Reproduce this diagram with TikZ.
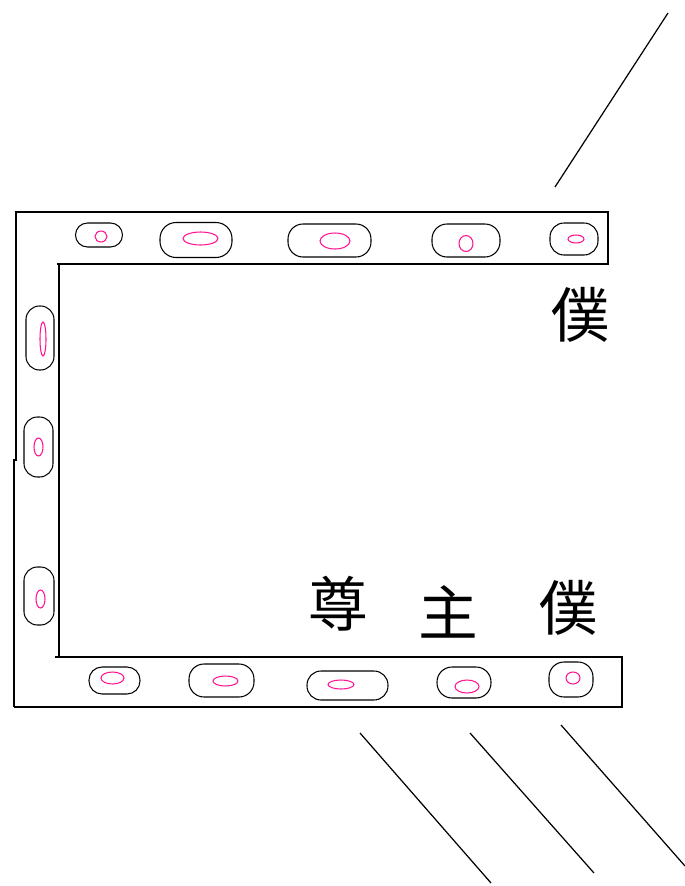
\documentclass[tikz,border=0pt]{standalone}
\usepackage{fontspec}
\newfontfamily\cjk{Noto Sans CJK TC}
\usetikzlibrary{positioning, shapes.geometric}
\definecolor{holepink}{RGB}{255,20,147}
\tikzset{
    %Define style for the walls
    wall/.style={
           draw=black, line width=0.9pt,
           line join=miter},
 %
    slot/.style={
           rectangle,
           rounded corners=#1,
           draw=black, line width=0.6pt,
           inner sep=0pt, outer sep=0pt},
    slot/.default=0.24cm,
 %
    hole/.style={
           ellipse,
           draw=holepink, line width=0.6pt,
           inner sep=0pt, outer sep=0pt},
 %
    sign/.style={
           font=\cjk\fontsize{34}{34}\selectfont,
           inner sep=0pt},
%
    % Define style for the loose lines
    ray/.style={
           draw=black, line width=0.7pt}
}

\begin{document}
\begin{tikzpicture}[x=0.02cm, y=-0.02cm]
  \useasboundingbox (0,0) rectangle (685,886);
  % walls
  \draw[wall] (14,707) -- (14,460) -- (16,460) -- (16,212) -- (608,212) -- (608,264) -- (57,264);
  \draw[wall] (59,264) -- (59,657);
  \draw[wall] (55,657) -- (622,657) -- (622,707) -- (14,707);
  % top row
  \node[slot] (t1) at (99,235) [minimum width=0.94cm, minimum height=0.48cm] {};
  \node[slot=0.32cm] (t2) at (196,240) [minimum width=1.44cm, minimum height=0.70cm] {};
  \node[slot=0.3cm] (t3) at (329.5,240.5) [minimum width=1.66cm, minimum height=0.66cm] {};
  \node[slot=0.3cm] (t4) at (466,240.5) [minimum width=1.36cm, minimum height=0.66cm] {};
  \node[slot=0.28cm] (t5) at (574,239) [minimum width=0.96cm, minimum height=0.64cm] {};
  \node[hole, minimum width=0.24cm, minimum height=0.22cm] (th1) at (101,236.5) {};
  \node[hole, minimum width=0.70cm, minimum height=0.26cm] (th2) at (200.5,238.5) {};
  \node[hole, minimum width=0.60cm, minimum height=0.32cm] (th3) at (335,241) {};
  \node[hole, minimum width=0.28cm, minimum height=0.32cm] (th4) at (466,243.5) {};
  \node[hole, minimum width=0.32cm, minimum height=0.16cm] (th5) at (576,239) {};
  % left column
  \node[slot=0.27cm] (l1) at (40,338) [minimum width=0.56cm, minimum height=1.28cm] {};
  \node[slot=0.27cm] (l2) at (38.5,447) [minimum width=0.58cm, minimum height=1.20cm] {};
  \node[slot=0.27cm] (l3) at (39,596) [minimum width=0.60cm, minimum height=1.16cm] {};
  \node[hole, minimum width=0.12cm, minimum height=0.68cm] (lh1) at (43,339) {};
  \node[hole, minimum width=0.18cm, minimum height=0.36cm] (lh2) at (38.5,447) {};
  \node[hole, minimum width=0.18cm, minimum height=0.36cm] (lh3) at (40.5,599) {};
  % bottom row
  \node[slot=0.26cm] (b1) at (114.5,680.5) [minimum width=1.02cm, minimum height=0.54cm] {};
  \node[slot=0.3cm] (b2) at (221.5,680.5) [minimum width=1.30cm, minimum height=0.66cm] {};
  \node[slot=0.28cm] (b3) at (347.5,685.5) [minimum width=1.62cm, minimum height=0.58cm] {};
  \node[slot=0.3cm] (b4) at (464,682.5) [minimum width=1.08cm, minimum height=0.62cm] {};
  \node[slot=0.3cm] (b5) at (571,679.5) [minimum width=0.88cm, minimum height=0.70cm] {};
  \node[hole, minimum width=0.46cm, minimum height=0.24cm] (bh1) at (112.5,678) {};
  \node[hole, minimum width=0.50cm, minimum height=0.20cm] (bh2) at (225.5,681) {};
  \node[hole, minimum width=0.52cm, minimum height=0.18cm] (bh3) at (341,684.5) {};
  \node[hole, minimum width=0.48cm, minimum height=0.26cm] (bh4) at (467,686.5) {};
  \node[hole, minimum width=0.28cm, minimum height=0.24cm] (bh5) at (573,678) {};
  % signs
  \node[sign] (servtop) at (580,315) {僕};
  \node[sign] (honour) at (338,604) {尊};
  \node[sign] (lord) at (448,612) {主};
  \node[sign] (servbot) at (568,608) {僕};
  % loose lines
  \coordinate (r1a) at (555,187);  \coordinate (r1b) at (668,13);
  \coordinate (r2a) at (360,733);  \coordinate (r2b) at (491,883);
  \coordinate (r3a) at (470,733);  \coordinate (r3b) at (594,873);
  \coordinate (r4a) at (561,725);  \coordinate (r4b) at (685,866);
  \draw[ray] (r1a) -- (r1b);
  \draw[ray] (r2a) -- (r2b);
  \draw[ray] (r3a) -- (r3b);
  \draw[ray] (r4a) -- (r4b);
\end{tikzpicture}
\end{document}
